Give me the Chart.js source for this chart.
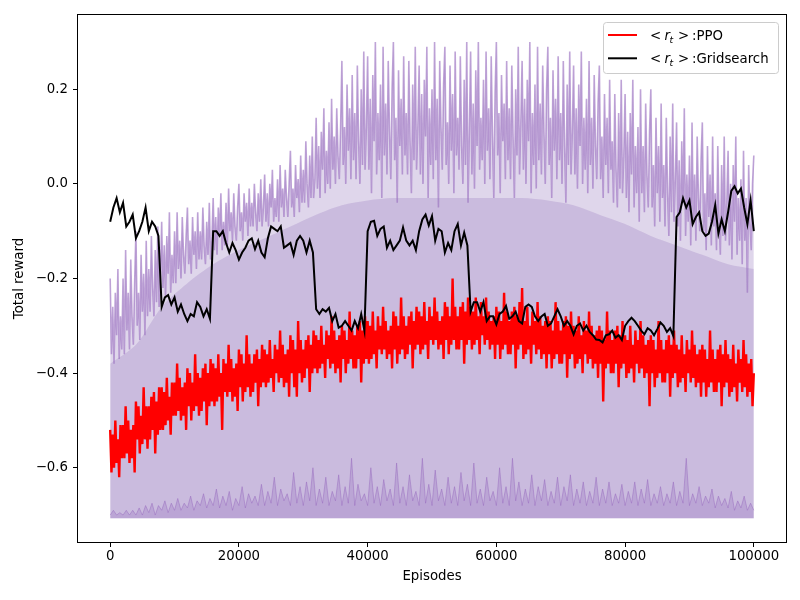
<!DOCTYPE html>
<html><head><meta charset="utf-8">
<script src="https://cdn.jsdelivr.net/npm/chart.js@4.4.0/dist/chart.umd.min.js"></script>
<style>html,body{margin:0;padding:0;background:#fff}#wrap{width:800px;height:600px}</style>
</head><body><div id="wrap"><canvas id="c" width="800" height="600"></canvas></div>
<script>
const xTicks = [0, 20000, 40000, 60000, 80000, 100000];
const xTickLabels = ['0', '20000', '40000', '60000', '80000', '100000'];
const yTicks = [-0.6, -0.4, -0.2, 0.0, 0.2];
const yTickLabels = ['\u22120.6', '\u22120.4', '\u22120.2', '0.0', '0.2'];
const seriesNames = ['PPO', 'Gridsearch'];
const xLabel = 'Episodes';
const yLabel = 'Total reward';
const fineStep = 200;   // episodes between samples (PPO, upper range)
const coarseStep = 500; // episodes between samples (Gridsearch, lower range)
const coreStep = 4000;  // episodes between samples of the solid range core
const rangeFloor = -0.707;

const ppoReward = [
-0.52,-0.61,-0.53,-0.60,-0.50,-0.59,-0.54,-0.62,-0.51,-0.58,
-0.51,-0.58,-0.47,-0.57,-0.50,-0.59,-0.52,-0.58,-0.51,-0.61,
-0.46,-0.54,-0.47,-0.57,-0.49,-0.55,-0.43,-0.54,-0.47,-0.56,
-0.47,-0.54,-0.45,-0.52,-0.44,-0.57,-0.46,-0.53,-0.43,-0.52,
-0.43,-0.52,-0.44,-0.51,-0.41,-0.50,-0.45,-0.53,-0.42,-0.49,
-0.42,-0.49,-0.38,-0.48,-0.41,-0.50,-0.43,-0.49,-0.42,-0.52,
-0.39,-0.47,-0.40,-0.50,-0.42,-0.48,-0.36,-0.47,-0.40,-0.49,
-0.41,-0.48,-0.39,-0.46,-0.38,-0.51,-0.40,-0.47,-0.37,-0.46,
-0.38,-0.47,-0.39,-0.46,-0.36,-0.45,-0.40,-0.52,-0.37,-0.44,
-0.38,-0.45,-0.34,-0.44,-0.37,-0.46,-0.39,-0.45,-0.38,-0.48,
-0.35,-0.43,-0.36,-0.46,-0.38,-0.44,-0.32,-0.43,-0.36,-0.45,
-0.38,-0.44,-0.36,-0.42,-0.35,-0.47,-0.37,-0.43,-0.34,-0.42,
-0.35,-0.43,-0.36,-0.42,-0.33,-0.41,-0.37,-0.44,-0.34,-0.40,
-0.35,-0.42,-0.31,-0.41,-0.34,-0.43,-0.36,-0.42,-0.35,-0.45,
-0.32,-0.40,-0.33,-0.43,-0.35,-0.45,-0.29,-0.40,-0.33,-0.42,
-0.35,-0.41,-0.33,-0.39,-0.32,-0.44,-0.34,-0.40,-0.31,-0.39,
-0.32,-0.40,-0.33,-0.39,-0.30,-0.38,-0.34,-0.41,-0.31,-0.37,
-0.32,-0.39,-0.28,-0.38,-0.31,-0.40,-0.33,-0.39,-0.32,-0.42,
-0.30,-0.37,-0.31,-0.40,-0.33,-0.38,-0.27,-0.37,-0.31,-0.39,
-0.32,-0.39,-0.30,-0.37,-0.29,-0.42,-0.31,-0.38,-0.28,-0.37,
-0.29,-0.38,-0.30,-0.37,-0.27,-0.36,-0.31,-0.39,-0.28,-0.35,
-0.30,-0.36,-0.26,-0.35,-0.29,-0.37,-0.31,-0.36,-0.30,-0.39,
-0.27,-0.35,-0.28,-0.38,-0.30,-0.36,-0.24,-0.35,-0.28,-0.37,
-0.30,-0.36,-0.28,-0.34,-0.27,-0.39,-0.29,-0.35,-0.26,-0.34,
-0.27,-0.36,-0.28,-0.35,-0.25,-0.34,-0.29,-0.37,-0.26,-0.33,
-0.28,-0.34,-0.24,-0.33,-0.27,-0.35,-0.29,-0.34,-0.28,-0.37,
-0.25,-0.33,-0.26,-0.36,-0.28,-0.34,-0.20,-0.33,-0.26,-0.35,
-0.28,-0.35,-0.26,-0.33,-0.25,-0.38,-0.27,-0.34,-0.24,-0.33,
-0.26,-0.35,-0.27,-0.34,-0.24,-0.33,-0.28,-0.36,-0.25,-0.32,
-0.28,-0.34,-0.24,-0.33,-0.27,-0.35,-0.29,-0.34,-0.28,-0.37,
-0.26,-0.34,-0.27,-0.37,-0.29,-0.35,-0.23,-0.34,-0.27,-0.36,
-0.29,-0.36,-0.27,-0.34,-0.26,-0.39,-0.28,-0.35,-0.25,-0.34,
-0.22,-0.37,-0.29,-0.36,-0.26,-0.35,-0.30,-0.38,-0.27,-0.34,
-0.29,-0.36,-0.25,-0.35,-0.28,-0.37,-0.30,-0.36,-0.29,-0.39,
-0.28,-0.36,-0.29,-0.39,-0.31,-0.37,-0.25,-0.36,-0.29,-0.38,
-0.31,-0.38,-0.29,-0.36,-0.28,-0.41,-0.30,-0.37,-0.27,-0.36,
-0.30,-0.39,-0.31,-0.38,-0.28,-0.37,-0.32,-0.40,-0.29,-0.36,
-0.31,-0.38,-0.27,-0.37,-0.30,-0.39,-0.32,-0.38,-0.31,-0.41,
-0.30,-0.38,-0.31,-0.46,-0.33,-0.39,-0.27,-0.38,-0.31,-0.40,
-0.33,-0.40,-0.31,-0.38,-0.30,-0.43,-0.32,-0.39,-0.29,-0.38,
-0.32,-0.41,-0.33,-0.40,-0.30,-0.39,-0.34,-0.42,-0.31,-0.38,
-0.33,-0.40,-0.29,-0.39,-0.32,-0.41,-0.34,-0.40,-0.33,-0.47,
-0.32,-0.40,-0.33,-0.43,-0.35,-0.41,-0.29,-0.40,-0.33,-0.42,
-0.35,-0.42,-0.33,-0.40,-0.32,-0.45,-0.34,-0.41,-0.31,-0.40,
-0.34,-0.43,-0.35,-0.42,-0.32,-0.41,-0.36,-0.44,-0.33,-0.40,
-0.35,-0.42,-0.31,-0.41,-0.34,-0.43,-0.36,-0.42,-0.35,-0.45,
-0.34,-0.42,-0.35,-0.45,-0.37,-0.43,-0.31,-0.42,-0.35,-0.44,
-0.37,-0.44,-0.35,-0.42,-0.34,-0.47,-0.36,-0.43,-0.33,-0.42,
-0.36,-0.45,-0.37,-0.44,-0.34,-0.43,-0.38,-0.46,-0.35,-0.42,
-0.37,-0.44,-0.33,-0.43,-0.36,-0.45,-0.38,-0.44,-0.37,-0.47,
-0.40
];

const gridsearchReward = [
-0.08,-0.05,-0.03,-0.06,-0.04,-0.09,-0.08,-0.065,-0.115,-0.10,-0.08,-0.05,-0.10,-0.08,-0.09,-0.11,
-0.26,-0.24,-0.235,-0.255,-0.24,-0.27,-0.255,-0.275,-0.29,-0.275,-0.28,-0.25,-0.26,-0.28,-0.265,-0.285,
-0.10,-0.10,-0.11,-0.10,-0.125,-0.145,-0.125,-0.14,-0.16,-0.145,-0.135,-0.12,-0.115,-0.138,-0.12,-0.145,
-0.155,-0.115,-0.09,-0.095,-0.10,-0.09,-0.135,-0.13,-0.125,-0.15,-0.12,-0.11,-0.12,-0.145,-0.12,-0.145,
-0.265,-0.275,-0.265,-0.27,-0.262,-0.29,-0.275,-0.304,-0.30,-0.29,-0.30,-0.31,-0.29,-0.305,-0.275,-0.31,
-0.10,-0.08,-0.078,-0.11,-0.095,-0.09,-0.135,-0.12,-0.14,-0.13,-0.12,-0.092,-0.12,-0.13,-0.12,-0.14,
-0.10,-0.075,-0.065,-0.088,-0.068,-0.12,-0.095,-0.10,-0.145,-0.125,-0.14,-0.10,-0.085,-0.13,-0.103,-0.13,
-0.27,-0.25,-0.25,-0.27,-0.25,-0.29,-0.28,-0.28,-0.297,-0.275,-0.27,-0.258,-0.285,-0.28,-0.27,-0.29,
-0.295,-0.26,-0.255,-0.26,-0.28,-0.29,-0.28,-0.275,-0.30,-0.295,-0.28,-0.265,-0.28,-0.30,-0.29,-0.30,
-0.318,-0.30,-0.295,-0.31,-0.30,-0.313,-0.32,-0.329,-0.33,-0.335,-0.32,-0.318,-0.31,-0.325,-0.32,-0.33,
-0.30,-0.29,-0.283,-0.29,-0.30,-0.31,-0.318,-0.305,-0.31,-0.32,-0.307,-0.293,-0.30,-0.313,-0.305,-0.322,
-0.07,-0.06,-0.03,-0.05,-0.035,-0.085,-0.07,-0.06,-0.10,-0.11,-0.105,-0.08,-0.045,-0.105,-0.075,-0.10,
-0.06,-0.015,-0.005,-0.02,-0.01,-0.05,-0.085,-0.035,-0.10
];

const rangeUpper = [
-0.20,-0.36,-0.26,-0.38,-0.23,-0.32,-0.18,-0.37,-0.28,-0.35,
-0.20,-0.36,-0.14,-0.31,-0.23,-0.35,-0.16,-0.28,-0.34,-0.21,
-0.10,-0.30,-0.23,-0.33,-0.15,-0.27,-0.19,-0.32,-0.12,-0.28,
-0.18,-0.27,-0.11,-0.22,-0.28,-0.14,-0.25,-0.09,-0.26,-0.20,
-0.08,-0.22,-0.13,-0.24,-0.11,-0.19,-0.06,-0.23,-0.15,-0.21,
-0.10,-0.21,-0.06,-0.18,-0.12,-0.20,-0.07,-0.15,-0.19,-0.11,
-0.05,-0.17,-0.12,-0.19,-0.07,-0.15,-0.10,-0.18,-0.06,-0.16,
-0.10,-0.16,-0.05,-0.13,-0.17,-0.08,-0.15,-0.04,-0.16,-0.12,
-0.03,-0.14,-0.07,-0.15,-0.05,-0.11,-0.02,-0.14,-0.08,-0.13,
-0.04,-0.13,-0.01,-0.10,-0.06,-0.12,-0.02,-0.09,-0.12,-0.05,
0.00,-0.10,-0.06,-0.12,-0.02,-0.08,-0.04,-0.11,-0.01,-0.09,
-0.04,-0.09,0.00,-0.06,-0.10,-0.02,-0.08,0.01,-0.09,-0.05,
0.02,-0.08,-0.02,-0.09,0.00,-0.05,0.03,-0.08,-0.03,-0.07,
0.01,-0.08,0.04,-0.05,-0.01,-0.07,0.03,-0.03,-0.07,0.00,
0.07,-0.05,-0.01,-0.07,0.04,-0.03,0.01,-0.06,0.06,-0.04,
0.03,-0.04,0.09,0.00,-0.05,0.06,-0.03,0.10,-0.03,0.01,
0.14,-0.01,0.08,-0.03,0.11,0.03,0.16,-0.02,0.07,0.00,
0.13,-0.01,0.18,0.03,0.10,0.00,0.16,0.06,0.01,0.12,
0.26,0.04,0.12,0.00,0.21,0.07,0.16,0.01,0.23,0.05,
0.15,0.01,0.25,0.09,0.00,0.20,0.04,0.28,0.03,0.12,
0.27,0.03,0.18,-0.02,0.23,0.09,0.30,0.02,0.15,0.05,
0.21,-0.03,0.29,0.06,0.17,0.02,0.26,0.11,0.01,0.20,
0.30,0.05,0.14,-0.04,0.24,0.08,0.18,0.02,0.27,0.06,
0.15,0.02,0.26,0.09,-0.02,0.21,0.05,0.29,0.03,0.12,
0.25,0.02,0.19,0.00,0.22,0.10,0.29,-0.03,0.16,0.04,
0.20,0.01,0.30,0.05,0.18,-0.05,0.26,0.12,0.03,0.21,
0.29,0.04,0.13,0.00,0.25,0.07,0.19,-0.02,0.28,0.06,
0.14,0.03,0.27,0.08,0.00,0.22,0.04,0.30,-0.04,0.11,
0.28,0.02,0.17,-0.01,0.24,0.08,0.30,0.03,0.14,0.05,
0.22,0.00,0.28,0.07,0.16,0.01,0.27,0.10,-0.03,0.19,
0.30,0.06,0.15,-0.02,0.23,0.09,0.17,0.01,0.26,0.05,
0.16,0.01,0.25,0.10,-0.03,0.20,0.06,0.29,0.02,0.13,
0.26,0.03,0.18,0.00,0.22,0.09,0.30,-0.02,0.15,0.04,
0.21,-0.01,0.29,0.05,0.17,0.02,0.25,0.11,0.00,0.20,
0.29,0.04,0.14,-0.03,0.24,0.07,0.18,0.01,0.27,0.05,
0.15,0.00,0.26,0.08,-0.04,0.21,0.04,0.28,0.02,0.11,
0.25,0.02,0.16,-0.01,0.21,0.08,0.28,0.00,0.14,0.03,
0.18,-0.02,0.26,0.04,0.14,-0.01,0.23,0.08,0.01,0.17,
0.25,0.01,0.10,-0.03,0.19,0.04,0.14,-0.02,0.22,0.03,
0.09,-0.04,0.19,0.03,-0.05,0.15,-0.01,0.22,-0.02,0.06,
0.19,-0.03,0.11,-0.06,0.15,0.02,0.22,-0.05,0.08,-0.02,
0.12,-0.08,0.20,-0.02,0.08,-0.06,0.17,0.02,-0.05,0.11,
0.20,-0.05,0.04,-0.09,0.14,-0.02,0.08,-0.08,0.17,-0.03,
0.04,-0.09,0.14,-0.02,-0.11,0.10,-0.06,0.17,-0.08,0.01,
0.13,-0.09,0.05,-0.12,0.09,-0.04,0.16,-0.11,0.02,-0.08,
0.06,-0.13,0.13,-0.08,0.02,-0.12,0.10,-0.03,-0.10,0.05,
0.13,-0.10,-0.02,-0.14,0.08,-0.07,0.02,-0.13,0.10,-0.09,
-0.02,-0.14,0.08,-0.07,-0.15,0.04,-0.11,0.10,-0.12,-0.04,
0.07,-0.13,0.00,-0.16,0.04,-0.08,0.10,-0.15,-0.03,-0.12,
0.01,-0.17,0.07,-0.12,-0.03,-0.23,0.04,-0.08,-0.14,0.00,
0.06
];

const rangeCore = [
-0.38,-0.34,-0.26,-0.21,-0.17,-0.14,-0.115,-0.09,-0.065,-0.045,
-0.035,-0.03,-0.03,-0.03,-0.03,-0.03,-0.03,-0.035,-0.045,-0.065,
-0.085,-0.11,-0.13,-0.15,-0.17,-0.18
];

const rangeLowerBand = [
-0.70,-0.69,-0.70,-0.695,-0.70,-0.69,-0.70,-0.69,-0.70,-0.685,
-0.70,-0.68,-0.695,-0.675,-0.70,-0.68,-0.69,-0.67,-0.695,-0.675,
-0.69,-0.665,-0.69,-0.675,-0.685,-0.66,-0.69,-0.67,-0.68,-0.655,
-0.685,-0.665,-0.68,-0.645,-0.685,-0.66,-0.68,-0.65,-0.69,-0.665,
-0.68,-0.64,-0.685,-0.655,-0.675,-0.66,-0.68,-0.635,-0.68,-0.65,
-0.675,-0.62,-0.68,-0.645,-0.67,-0.655,-0.68,-0.61,-0.675,-0.64,
-0.68,-0.63,-0.67,-0.60,-0.68,-0.645,-0.675,-0.62,-0.68,-0.65,
-0.67,-0.615,-0.68,-0.64,-0.675,-0.58,-0.68,-0.635,-0.67,-0.655,
-0.68,-0.60,-0.675,-0.64,-0.68,-0.625,-0.67,-0.645,-0.68,-0.59,
-0.675,-0.64,-0.68,-0.615,-0.67,-0.65,-0.68,-0.58,-0.675,-0.635,
-0.68,-0.605,-0.67,-0.645,-0.68,-0.62,-0.675,-0.64,-0.68,-0.61,
-0.67,-0.635,-0.68,-0.59,-0.675,-0.645,-0.68,-0.62,-0.67,-0.65,
-0.68,-0.60,-0.675,-0.64,-0.68,-0.58,-0.67,-0.63,-0.68,-0.645,
-0.675,-0.615,-0.68,-0.64,-0.67,-0.625,-0.68,-0.65,-0.675,-0.62,
-0.68,-0.64,-0.67,-0.615,-0.68,-0.645,-0.675,-0.63,-0.68,-0.65,
-0.675,-0.62,-0.68,-0.645,-0.675,-0.63,-0.68,-0.655,-0.675,-0.635,
-0.68,-0.65,-0.675,-0.63,-0.68,-0.645,-0.675,-0.625,-0.68,-0.655,
-0.675,-0.64,-0.68,-0.655,-0.675,-0.63,-0.68,-0.65,-0.675,-0.58,
-0.68,-0.655,-0.675,-0.64,-0.68,-0.66,-0.675,-0.645,-0.685,-0.66,
-0.68,-0.665,-0.685,-0.65,-0.69,-0.67,-0.685,-0.66,-0.69,-0.675,
-0.69
];

const toPoints = (arr, step) => arr.map((y, i) => ({x: i * step, y}));

const FONT = 'DejaVu Sans';
const FS = 13.3;

const framePlugin = {
  id: 'frame',
  afterDatasetsDraw(chart) {
    const {ctx, chartArea: a} = chart;
    ctx.save();
    ctx.strokeStyle = '#000';
    ctx.lineWidth = 1;
    ctx.strokeRect(Math.round(a.left) - 0.5, Math.round(a.top) - 0.5,
                   Math.round(a.right - a.left) + 1, Math.round(a.bottom - a.top) + 1);
    ctx.restore();
  }
};

const legendPlugin = {
  id: 'mplLegend',
  afterDraw(chart) {
    const ctx = chart.ctx;
    const colors = ['#ff0000', '#000000'];
    const bx = 603.5, by = 22.5, bw = 175, bh = 51, r = 3;
    ctx.save();
    ctx.beginPath();
    ctx.moveTo(bx + r, by);
    ctx.lineTo(bx + bw - r, by); ctx.arcTo(bx + bw, by, bx + bw, by + r, r);
    ctx.lineTo(bx + bw, by + bh - r); ctx.arcTo(bx + bw, by + bh, bx + bw - r, by + bh, r);
    ctx.lineTo(bx + r, by + bh); ctx.arcTo(bx, by + bh, bx, by + bh - r, r);
    ctx.lineTo(bx, by + r); ctx.arcTo(bx, by, bx + r, by, r);
    ctx.closePath();
    ctx.fillStyle = 'rgba(255,255,255,0.8)';
    ctx.fill();
    ctx.strokeStyle = '#cccccc';
    ctx.lineWidth = 1;
    ctx.stroke();
    seriesNames.forEach((name, i) => {
      const cy = 35 + i * 23.3;
      ctx.strokeStyle = colors[i];
      ctx.lineWidth = 2;
      ctx.beginPath(); ctx.moveTo(608, cy); ctx.lineTo(637, cy); ctx.stroke();
      ctx.fillStyle = '#000';
      ctx.textBaseline = 'alphabetic';
      ctx.textAlign = 'left';
      const base = cy + 5;
      ctx.font = FS + 'px "' + FONT + '"';
      ctx.fillText('<', 650, base);
      ctx.font = 'italic ' + FS + 'px "' + FONT + '"';
      ctx.fillText('r', 664.5, base);
      ctx.font = 'italic 9.3px "' + FONT + '"';
      ctx.fillText('t', 669.5, base + 3);
      ctx.font = FS + 'px "' + FONT + '"';
      ctx.fillText('>', 678, base);
      ctx.fillText(':' + name, 692, base);
    });
    ctx.restore();
  }
};

const chart = new Chart(document.getElementById('c'), {
  type: 'line',
  data: {
    datasets: [
      { label: seriesNames[0], data: toPoints(ppoReward, fineStep), borderColor: '#ff0000',
        borderWidth: 2.4, pointRadius: 0, fill: false, order: 1, tension: 0 },
      { label: seriesNames[1], data: toPoints(gridsearchReward, coarseStep), borderColor: '#000000',
        borderWidth: 2, pointRadius: 0, fill: false, order: 0, tension: 0 },
      { label: 'rangeLow', data: toPoints(rangeLowerBand, coarseStep), borderColor: 'rgba(148,103,189,0.45)',
        backgroundColor: 'rgba(148,103,189,0.26)', borderWidth: 1, pointRadius: 0,
        fill: {value: rangeFloor}, order: 2, tension: 0 },
      { label: 'rangeCore', data: toPoints(rangeCore, coreStep), borderColor: 'rgba(0,0,0,0)',
        backgroundColor: 'rgba(150,120,190,0.29)', borderWidth: 0, pointRadius: 0,
        fill: {value: rangeFloor}, order: 3, tension: 0.3 },
      { label: 'rangeHigh', data: toPoints(rangeUpper, fineStep), borderColor: 'rgba(148,103,189,0.6)',
        backgroundColor: 'rgba(150,120,190,0.3)', borderWidth: 1.6, pointRadius: 0,
        fill: {value: rangeFloor}, order: 4, tension: 0 }
    ]
  },
  options: {
    responsive: false,
    animation: false,
    devicePixelRatio: 1,
    events: [],
    layout: { padding: { left: 0, right: 14, top: 15, bottom: 0 } },
    plugins: { legend: { display: false }, tooltip: { enabled: false } },
    scales: {
      x: {
        type: 'linear', min: -5000, max: 105000,
        afterBuildTicks: s => { s.ticks = xTicks.map(v => ({value: v})); },
        afterFit: s => { s.height = 58; },
        ticks: { autoSkip: false, maxRotation: 0, padding: 2, color: '#000',
                 font: { family: FONT, size: FS },
                 callback: v => { const k = xTicks.indexOf(v); return k >= 0 ? xTickLabels[k] : ''; } },
        grid: { drawOnChartArea: false, drawTicks: true, tickLength: 5, color: '#000', tickWidth: 1 },
        border: { display: false },
        title: { display: true, text: xLabel, color: '#000', font: { family: FONT, size: FS },
                 padding: { top: 0, bottom: 15 } }
      },
      y: {
        type: 'linear', min: -0.757, max: 0.357,
        afterBuildTicks: s => { s.ticks = yTicks.map(v => ({value: v})); },
        afterFit: s => { s.width = 78; },
        ticks: { autoSkip: false, padding: 5, color: '#000',
                 font: { family: FONT, size: FS },
                 callback: v => { const k = yTicks.findIndex(t => Math.abs(t - v) < 1e-9); return k >= 0 ? yTickLabels[k] : ''; } },
        grid: { drawOnChartArea: false, drawTicks: true, tickLength: 5, color: '#000', tickWidth: 1 },
        border: { display: false },
        title: { display: true, text: yLabel, color: '#000', font: { family: FONT, size: FS },
                 padding: { top: 12, bottom: 0 } }
      }
    }
  },
  plugins: [framePlugin, legendPlugin]
});
</script>
</body></html>
